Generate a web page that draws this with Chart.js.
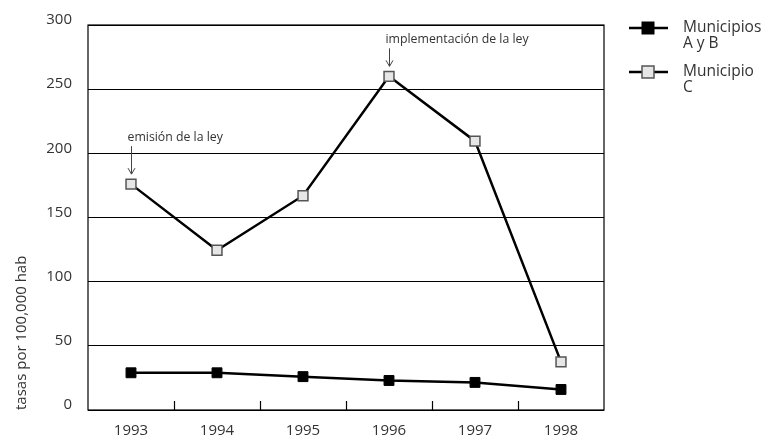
<!DOCTYPE html>
<html>
<head>
  <title>Tasas por 100,000 hab</title>
  <script src="https://cdn.jsdelivr.net/npm/chart.js@4.4.1/dist/chart.umd.min.js"></script>
  <style>
    body { margin: 0; background: #fff; }
    #wrap { width: 773px; height: 441px; }
  </style>
</head>
<body>
  <div id="wrap"><canvas id="chart"></canvas></div>

  <script>
    const years = ['1993', '1994', '1995', '1996', '1997', '1998'];
    const municipiosAB = [29, 29, 26, 23, 21.5, 16];
    const municipioC = [176, 124.5, 167, 260, 209.5, 37.5];
    const yTicks = [0, 50, 100, 150, 200, 250, 300];

    // notas sobre la serie C (dy: distancia del texto sobre el punto)
    const notas = [
      { idx: 0, text: 'emisión de la ley', dy: 47 },
      { idx: 3, text: 'implementación de la ley', dy: 37 }
    ];

    const fuente = '"Open Sans", Lato, sans-serif';

    // marco del área, marcas del eje x hacia dentro, notas con flecha y leyenda
    const extras = {
      id: 'extras',
      afterDraw(chart) {
        const ctx = chart.ctx;
        const a = chart.chartArea;
        const x = chart.scales.x;
        const y = chart.scales.y;
        ctx.save();
        ctx.strokeStyle = '#000';
        ctx.lineWidth = 1.2;
        ctx.strokeRect(a.left, a.top, a.right - a.left, a.bottom - a.top);

        for (let i = 0; i < years.length - 1; i++) {
          const px = Math.round((x.getPixelForValue(i) + x.getPixelForValue(i + 1)) / 2) + 0.5;
          ctx.beginPath();
          ctx.moveTo(px, a.bottom);
          ctx.lineTo(px, a.bottom - 9);
          ctx.stroke();
        }

        ctx.font = '12.3px ' + fuente;
        ctx.fillStyle = '#333';
        ctx.strokeStyle = '#444';
        ctx.lineWidth = 1;
        ctx.textBaseline = 'middle';
        ctx.textAlign = 'left';
        notas.forEach(n => {
          const px = Math.round(x.getPixelForValue(n.idx)) + 0.5;
          const py = y.getPixelForValue(municipioC[n.idx]);
          ctx.fillText(n.text, px - 4, py - n.dy);
          ctx.beginPath();
          ctx.moveTo(px, py - n.dy + 9);
          ctx.lineTo(px, py - 10);
          ctx.moveTo(px - 3.5, py - 16);
          ctx.lineTo(px, py - 10);
          ctx.lineTo(px + 3.5, py - 16);
          ctx.stroke();
        });

        // leyenda
        const items = [
          { ds: chart.data.datasets[0], lines: ['Municipios', 'A y B'], y: 28 },
          { ds: chart.data.datasets[1], lines: ['Municipio', 'C'], y: 72 }
        ];
        ctx.font = '15.5px ' + fuente;
        items.forEach(it => {
          ctx.strokeStyle = '#000';
          ctx.lineWidth = 2.5;
          ctx.beginPath();
          ctx.moveTo(629, it.y);
          ctx.lineTo(668, it.y);
          ctx.stroke();
          ctx.fillStyle = it.ds.pointBackgroundColor;
          ctx.strokeStyle = it.ds.pointBorderColor;
          ctx.lineWidth = it.ds.pointBorderWidth;
          ctx.fillRect(642, it.y - 6, 12, 12);
          ctx.strokeRect(642, it.y - 6, 12, 12);
          ctx.fillStyle = '#333';
          ctx.fillText(it.lines[0], 683, it.y);
          ctx.fillText(it.lines[1], 683, it.y + 16);
        });
        ctx.restore();
      }
    };

    new Chart(document.getElementById('chart'), {
      type: 'line',
      data: {
        labels: years,
        datasets: [
          {
            label: 'Municipios A y B',
            data: municipiosAB,
            borderColor: '#000',
            borderWidth: 2.5,
            pointStyle: 'rect',
            pointRadius: 7,
            pointBackgroundColor: '#000',
            pointBorderColor: '#000',
            pointBorderWidth: 1
          },
          {
            label: 'Municipio C',
            data: municipioC,
            borderColor: '#000',
            borderWidth: 2.5,
            pointStyle: 'rect',
            pointRadius: 7,
            pointBackgroundColor: '#e6e6e6',
            pointBorderColor: '#555',
            pointBorderWidth: 1.5
          }
        ]
      },
      options: {
        responsive: true,
        maintainAspectRatio: false,
        animation: false,
        layout: { padding: { top: 22, right: 169, bottom: 0, left: 0 } },
        plugins: {
          legend: { display: false },
          tooltip: { enabled: false }
        },
        scales: {
          x: {
            offset: true,
            grid: { display: false, drawTicks: false },
            border: { display: false },
            ticks: {
              color: '#333',
              font: { family: fuente, size: 15 },
              padding: 12
            },
            afterFit(scale) { scale.height = 31; }
          },
          y: {
            min: 0,
            max: 300,
            afterBuildTicks(scale) {
              scale.ticks = yTicks.map(v => ({ value: v }));
            },
            grid: { color: '#000', lineWidth: 1, drawTicks: false },
            border: { display: false },
            ticks: {
              color: '#333',
              font: { family: fuente, size: 15 },
              padding: 16,
              labelOffset: -5
            },
            title: {
              display: true,
              text: 'tasas por 100,000 hab',
              align: 'start',
              color: '#333',
              font: { family: fuente, size: 15 },
              padding: { top: 13, bottom: 0 }
            },
            afterFit(scale) { scale.width = 88; }
          }
        }
      },
      plugins: [extras]
    });
  </script>
</body>
</html>
